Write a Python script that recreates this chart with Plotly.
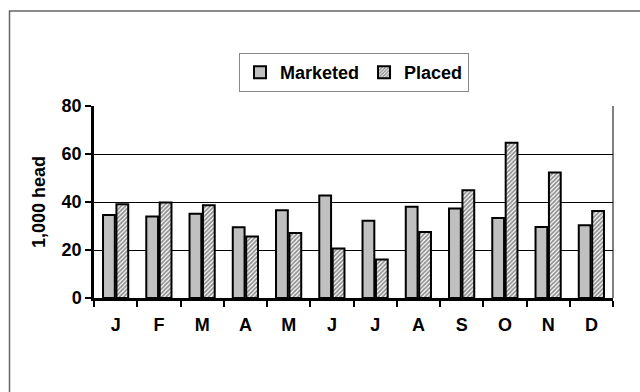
import plotly.graph_objects as go

months = ["J", "F", "M", "A", "M ", "J ", "J  ", "A ", "S", "O", "N", "D"]
tick_text = ["J", "F", "M", "A", "M", "J", "J", "A", "S", "O", "N", "D"]
marketed = [34.6, 34.0, 35.1, 29.5, 36.6, 42.7, 32.2, 38.0, 37.3, 33.3, 29.6, 30.3]
placed = [39.1, 39.8, 38.6, 25.6, 27.1, 20.6, 16.0, 27.5, 44.9, 64.7, 52.3, 36.3]
y_ticks = [0, 20, 40, 60, 80]

FONT = "Liberation Sans, Arial, sans-serif"

fig = go.Figure()
fig.add_trace(go.Bar(
    name="Marketed", x=months, y=marketed,
    marker=dict(color="#c0c0c0", line=dict(color="#000000", width=2)),
))
fig.add_trace(go.Bar(
    name="Placed", x=months, y=placed,
    marker=dict(color="#ffffff", line=dict(color="#000000", width=2),
                pattern=dict(shape="/", fgcolor="#222222", bgcolor="#ffffff",
                             size=3, solidity=0.6)),
))

L, R, T, B = 94, 27, 106, 94
W, H = 640, 392
pw, ph = W - L - R, H - T - B

def px(x):
    return (x - L) / pw

def py(y):
    return (H - B - y) / ph

fig.update_layout(
    width=W, height=H,
    margin=dict(l=L, r=R, t=T, b=B, pad=0),
    paper_bgcolor="white", plot_bgcolor="white",
    barmode="group", bargap=0.38, bargroupgap=0.12,
    font=dict(family=FONT, size=18, color="#000000"),
    showlegend=True,
    legend=dict(
        orientation="h", x=px(354), xanchor="center", y=py(53), yanchor="top",
        bordercolor="#888888", borderwidth=1, bgcolor="white",
        font=dict(family=FONT, size=18, color="#000000", weight="bold"),
        itemwidth=30, traceorder="normal", tracegroupgap=0,
    ),
    xaxis=dict(
        type="category", tickvals=months, ticktext=tick_text,
        showline=True, linecolor="#000000", linewidth=2.5,
        ticks="outside", tickson="boundaries", ticklen=6, tickwidth=2,
        tickcolor="#000000", showgrid=False, ticklabelstandoff=9,
        tickfont=dict(family=FONT, size=18, weight="bold"),
    ),
    yaxis=dict(
        range=[0, 80], tickvals=y_ticks,
        showline=True, linecolor="#000000", linewidth=2.5,
        ticks="outside", ticklen=6, tickwidth=2, tickcolor="#000000",
        showgrid=True, gridcolor="#000000", gridwidth=1,
        zeroline=False,
        tickfont=dict(family=FONT, size=18, weight="bold"),
        title=dict(text="1,000 head", standoff=12,
                   font=dict(family=FONT, size=18, weight="bold")),
    ),
    shapes=[
        dict(type="line", xref="paper", yref="paper", x0=1, x1=1, y0=0, y1=1,
             line=dict(color="#000000", width=1)),
        dict(type="rect", xref="paper", yref="paper",
             x0=px(9.5), x1=px(660), y0=py(410), y1=py(11),
             line=dict(color="#666666", width=1.5), layer="below"),
    ],
)

fig.write_html("out.html")
